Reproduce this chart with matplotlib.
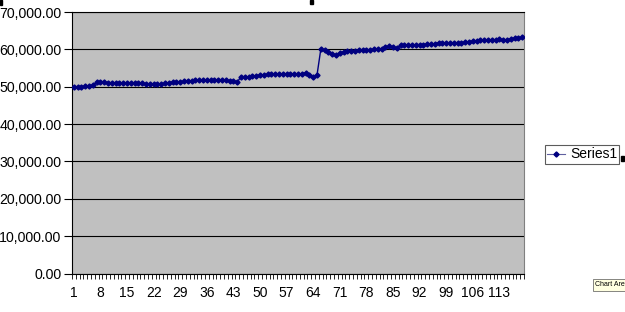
import matplotlib
matplotlib.use("Agg")
import matplotlib.pyplot as plt
from matplotlib.patches import Rectangle
import numpy as np

plt.rcParams['font.family'] = ['Liberation Sans', 'DejaVu Sans']

# series values, one per category (1..119)
values = [
    50000, 50000, 50050, 50150, 50250, 50400,
    51200, 51300,
    51200, 51100, 51100, 51000, 51000, 50900, 50900, 50900, 50900, 50900, 50900, 50800, 50800, 50700,
    50700, 50800, 50900, 51100,
    51200, 51300, 51300, 51400, 51500, 51600, 51700, 51800, 51800,
    51800, 51800, 51800, 51800, 51800,
    51700, 51400, 51500, 51200,
    52700, 52700, 52600, 52800, 52900, 53100, 53200,
    53300, 53300, 53400, 53400, 53400, 53400, 53500, 53400,
    53300, 53500, 53700, 53100, 52600, 53100,
    60000, 59700, 59300, 58800, 58500, 59000, 59400,
    59500, 59500, 59600, 59700, 59800, 59800, 59900, 60000, 60100, 60200,
    60700, 60800, 60500, 60400, 61100,
    61100, 61100, 61200, 61200, 61300, 61300, 61400, 61500, 61500, 61800,
    61800, 61600, 61700, 61700, 61800, 61800, 61900, 62100, 62200, 62300,
    62400, 62500, 62500, 62600, 62600, 62700, 62600, 62600, 62800, 63000,
    63100, 63200,
]
categories = np.arange(1, len(values) + 1)
x_labels = [1, 8, 15, 22, 29, 36, 43, 50, 57, 64, 71, 78, 85, 92, 99, 106, 113]
y_ticks = [0, 10000, 20000, 30000, 40000, 50000, 60000, 70000]
series_name = 'Series1'

W, H = 625, 312
fig = plt.figure(figsize=(W / 100, H / 100), dpi=100)
fig.patch.set_facecolor('white')

left, right, top, bottom = 72, 524, 12, 273.5
ax = fig.add_axes([left / W, 1 - bottom / H, (right - left) / W, (bottom - top) / H])
ax.set_facecolor('#c0c0c0')

ax.plot(categories, values, color='#000080', lw=1.0, marker='D', ms=2.6,
        mec='#000080', mfc='#000080', label=series_name, zorder=3)

ax.set_xlim(0.5, len(values) + 0.5)
ax.set_ylim(0, 70000)

# gridlines
ax.set_yticks(y_ticks)
ax.set_yticklabels([f'{v:,.2f}' for v in y_ticks], fontsize=10.2)
ax.grid(axis='y', color='black', lw=0.8)
ax.set_axisbelow(True)
ax.tick_params(axis='y', length=6, width=0.8, pad=1.5, direction='out')

# category axis: ticks between categories, labels every 7th
ax.set_xticks(x_labels)
ax.set_xticklabels([str(v) for v in x_labels], fontsize=10)
ax.set_xticks(np.arange(0.5, len(values) + 1, 1.0), minor=True)
ax.tick_params(axis='x', which='major', length=0, pad=9)
ax.tick_params(axis='x', which='minor', length=3.5, width=0.6, direction='out')

for side in ['left', 'bottom']:
    ax.spines[side].set_color('black')
    ax.spines[side].set_linewidth(0.8)
ax.spines['right'].set_color('#808080')
ax.spines['top'].set_color('black')
ax.spines['top'].set_linewidth(0.8)

# legend
leg = fig.legend(loc='center left', bbox_to_anchor=(545 / W, 1 - 154.5 / H),
                 fontsize=10, frameon=True, fancybox=False, handlelength=1.3,
                 handletextpad=0.35, borderpad=0.15, borderaxespad=0)
leg.get_frame().set_edgecolor('#333333')
leg.get_frame().set_linewidth(0.8)
for h in leg.legend_handles:
    h.set_linewidth(0.8)
    h.set_color('#6060a0')
    h.set_markerfacecolor('#000080')
    h.set_markeredgecolor('#000080')

# selection handles left over in the screenshot
for (x0, y0, w, h) in [(0, 0, 2, 5), (310, 0, 3, 4), (621, 156, 3, 5)]:
    fig.patches.append(Rectangle((x0 / W, 1 - (y0 + h) / H), w / W, h / H,
                                 transform=fig.transFigure, color='black'))

fig.text(595 / W, 1 - 285 / H, 'Chart Area', fontsize=5, va='center', ha='left',
         bbox=dict(boxstyle='square,pad=0.3', fc='#ffffe1', ec='#555555', lw=0.5))

fig.savefig('out.png', dpi=100)
